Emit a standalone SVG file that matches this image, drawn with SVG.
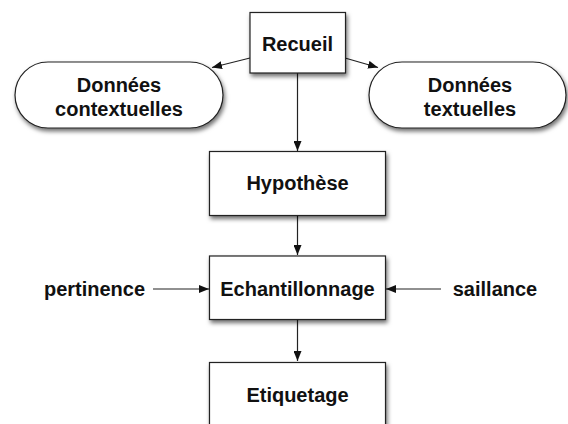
<svg xmlns="http://www.w3.org/2000/svg" width="568" height="424" viewBox="0 0 568 424">
<defs>
<filter id="sh" x="-20%" y="-20%" width="140%" height="150%">
<feDropShadow dx="1.5" dy="3" stdDeviation="2" flood-color="#000" flood-opacity="0.55"/>
</filter>
<marker id="ah" viewBox="0 0 10 8" refX="10" refY="4" markerWidth="10" markerHeight="8" markerUnits="userSpaceOnUse" orient="auto">
<path d="M0,0 L10,4 L0,8 Z" fill="#111"/>
</marker>
<style>
.box{fill:#fff;stroke:#222;stroke-width:1.2;filter:url(#sh)}
.t{font-family:"Liberation Sans",Arial,sans-serif;font-weight:bold;font-size:20px;fill:#111;text-anchor:middle}
.c{fill:none;stroke:#222;stroke-width:1.2;marker-end:url(#ah)}
</style>
</defs>
<rect width="568" height="424" fill="#fff"/>
<g id="connectors">
<line class="c" x1="250" y1="58" x2="212" y2="67.5"/>
<line class="c" x1="345" y1="58" x2="378" y2="67.5"/>
<line class="c" x1="297.5" y1="73" x2="297.5" y2="151"/>
<line class="c" x1="297.5" y1="216" x2="297.5" y2="255"/>
<line class="c" x1="297.5" y1="320" x2="297.5" y2="361"/>
<line class="c" x1="153" y1="289" x2="209" y2="289"/>
<line class="c" x1="441" y1="289" x2="386" y2="289"/>
</g>
<g id="recueil">
<rect class="box" x="250" y="12.5" width="95.5" height="60.5"/>
<text class="t" x="297.5" y="51">Recueil</text>
</g>
<g id="donnees-contextuelles">
<rect class="box" x="15" y="62" width="208" height="66" rx="33"/>
<text class="t" x="119" y="92">Données</text>
<text class="t" x="119" y="116">contextuelles</text>
</g>
<g id="donnees-textuelles">
<rect class="box" x="369" y="62" width="197" height="66" rx="33"/>
<text class="t" x="470" y="92">Données</text>
<text class="t" x="470" y="116">textuelles</text>
</g>
<g id="hypothese">
<rect class="box" x="209.5" y="151.5" width="176" height="64"/>
<text class="t" x="297.5" y="190">Hypothèse</text>
</g>
<g id="echantillonnage">
<rect class="box" x="209.5" y="256" width="176" height="63.5"/>
<text class="t" x="297.5" y="296">Echantillonnage</text>
</g>
<g id="etiquetage">
<rect class="box" x="209.5" y="362.5" width="176" height="70"/>
<text class="t" x="297.5" y="402">Etiquetage</text>
</g>
<g id="pertinence">
<text class="t" x="94.5" y="296">pertinence</text>
</g>
<g id="saillance">
<text class="t" x="495" y="296">saillance</text>
</g>
</svg>
